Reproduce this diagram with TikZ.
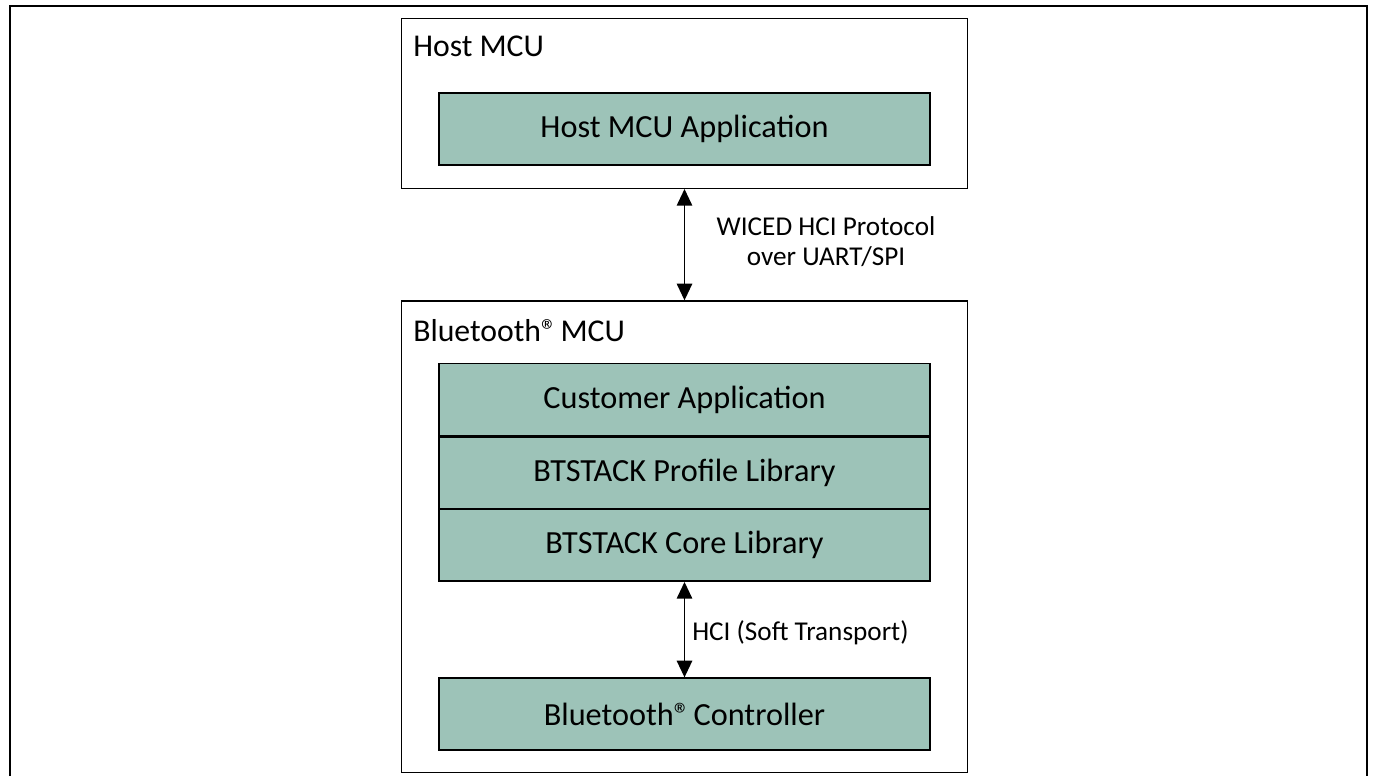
\documentclass[tikz,border=0pt]{standalone}
\usepackage{fontspec}
\setmainfont{Carlito}
\usetikzlibrary{arrows.meta}
\definecolor{boxgreen}{RGB}{157,195,184}
\newcommand{\regmark}{®\kern-0.12em}
\tikzset{
  outerbox/.style={draw=black, line width=1pt, fill=white, minimum width=565.6*0.75pt, inner sep=0pt},
  layerbox/.style={draw=black, line width=1.4pt, fill=boxgreen, minimum width=490.4*0.75pt, minimum height=72*0.75pt, inner sep=0pt, font=\fontsize{24.2}{28}\selectfont},
  title/.style={anchor=base west, inner sep=0pt, font=\fontsize{23.8}{28}\selectfont},
  lbl/.style={inner sep=0pt, font=\fontsize{20.4}{22.5}\selectfont, align=center},
  biarrow/.style={line width=1.3pt, {Triangle[width=11.5pt,length=12.5pt]}-{Triangle[width=11.5pt,length=12.5pt]}}
}
\begin{document}
\begin{tikzpicture}[x=0.75pt,y=-0.75pt]
\useasboundingbox (0,0) rectangle (1376,776);
% outer frame (bottom edge cut off)
\draw[line width=1.9pt] (10,776) -- (10,6) -- (1367,6) -- (1367,776);
% containers
\node[outerbox, minimum height=170*0.75pt] (host) at (684.5,103.3) {};
\node[outerbox, minimum height=471.3*0.75pt] (bt) at (684.5,536.65) {};
\node[title] (hosttitle) at (413,56) {Host MCU};
\node[title] (bttitle) at (413,341) {Bluetooth\regmark{} MCU};
% layers
\node[layerbox] (hostapp) at (684.5,129.3) {Host MCU Application};
\node[layerbox] (custapp) at (684.5,399.5) {Customer Application};
\node[layerbox] (profile) at (684.5,473) {BTSTACK Profile Library};
\node[layerbox] (core) at (684.5,545) {BTSTACK Core Library};
\node[layerbox] (ctrl) at (684.5,714.3) {Bluetooth\regmark{} Controller};
% connectors
\draw[biarrow] (host.south) -- (bt.north);
\draw[biarrow] (core.south) -- (ctrl.north);
\node[lbl] (wiced) at (826,242) {WICED HCI Protocol\\over UART/SPI};
\node[lbl, anchor=west] (hci) at (692,633) {HCI (Soft Transport)};
\end{tikzpicture}
\end{document}
